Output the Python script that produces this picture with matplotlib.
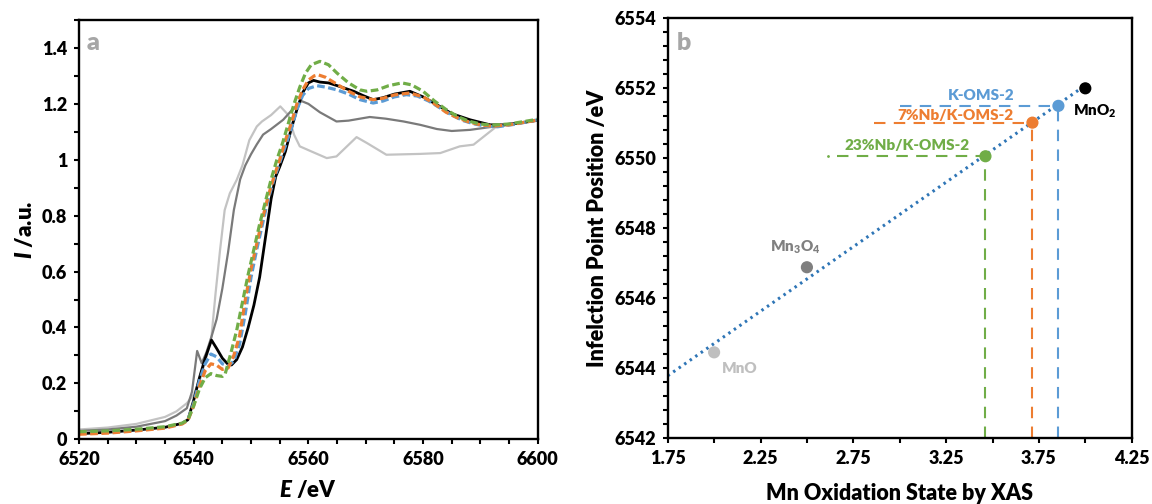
import numpy as np
import matplotlib
matplotlib.use('Agg')
import matplotlib.pyplot as plt
from matplotlib.ticker import MultipleLocator, FuncFormatter

plt.rcParams['font.family'] = ['Lato', 'DejaVu Sans']
plt.rcParams['font.weight'] = 'heavy'
plt.rcParams['axes.labelweight'] = 'heavy'
plt.rcParams['mathtext.fontset'] = 'custom'
plt.rcParams['mathtext.rm'] = 'Lato:heavy'
plt.rcParams['mathtext.it'] = 'Lato:italic:heavy'
plt.rcParams['mathtext.bf'] = 'Lato:heavy'

# ---- panel a: XANES spectra ----
e_mno = [6520, 6525, 6530, 6535, 6537, 6538.8, 6540, 6541.2, 6542.3, 6543.1, 6543.8, 6544.6,
         6545.4, 6546.3, 6547.5, 6548.5, 6549.7, 6551, 6551.9, 6553.5, 6555.1, 6556.5, 6557.5,
         6558.5, 6560.5, 6563.2, 6564.9, 6568.4, 6570.2, 6573.6, 6579.5, 6583, 6586.4, 6588.8,
         6592.8, 6596, 6600]
i_mno = [0.035, 0.042, 0.055, 0.08, 0.1, 0.129, 0.16, 0.22, 0.3, 0.367, 0.52, 0.678,
         0.82, 0.88, 0.928, 0.98, 1.07, 1.119, 1.137, 1.16, 1.191, 1.16, 1.09,
         1.048, 1.03, 1.006, 1.012, 1.081, 1.06, 1.018, 1.021, 1.024, 1.048, 1.054,
         1.119, 1.13, 1.14]

e_mn3o4 = [6520, 6525, 6530, 6535, 6537, 6538.8, 6539.7, 6540.6, 6541.4, 6542.2, 6543.1, 6544,
           6545, 6546, 6547, 6548.1, 6549, 6550, 6551, 6552.1, 6553.5, 6555.6, 6557, 6558.8,
           6560, 6562, 6564.9, 6567, 6570.7, 6573.5, 6576.6, 6579.5, 6582.4, 6585, 6588.2,
           6591.7, 6595, 6600]
i_mn3o4 = [0.03, 0.035, 0.045, 0.065, 0.085, 0.111, 0.17, 0.316, 0.272, 0.31, 0.367, 0.43,
           0.54, 0.67, 0.82, 0.93, 0.98, 1.02, 1.055, 1.09, 1.11, 1.143, 1.175, 1.21,
           1.2, 1.17, 1.137, 1.14, 1.153, 1.147, 1.137, 1.125, 1.11, 1.103, 1.107,
           1.117, 1.125, 1.14]

e_mno2 = [6520, 6525, 6530, 6535, 6538, 6539, 6540, 6541, 6542, 6543.1, 6544, 6545, 6546,
          6546.6, 6547.5, 6548.5, 6549.5, 6550.5, 6551.5, 6552.5, 6553.5, 6554.3, 6555, 6556,
          6557, 6558, 6559, 6560, 6560.9, 6562, 6563.5, 6565.5, 6567.9, 6569.5, 6571.3, 6573,
          6575, 6577.7, 6580, 6582.4, 6585, 6588.2, 6591.7, 6594, 6597, 6600]
i_mno2 = [0.02, 0.025, 0.033, 0.043, 0.057, 0.07, 0.14, 0.22, 0.29, 0.355, 0.325, 0.29, 0.268,
          0.266, 0.285, 0.33, 0.40, 0.48, 0.58, 0.72, 0.86, 0.94, 0.975, 1.03,
          1.11, 1.18, 1.24, 1.275, 1.284, 1.278, 1.275, 1.262, 1.245, 1.23, 1.215, 1.222,
          1.235, 1.245, 1.225, 1.197, 1.165, 1.143, 1.125, 1.125, 1.132, 1.142]

e_koms = [6520, 6525, 6530, 6535, 6538, 6539, 6540, 6541, 6542, 6543, 6544, 6545, 6546, 6547,
          6548, 6549, 6550, 6551, 6552, 6553, 6554, 6555, 6556, 6557, 6558, 6559, 6560, 6561.5,
          6563, 6565, 6567, 6569, 6571.3, 6573, 6575, 6577.1, 6579, 6581, 6583, 6585, 6587,
          6589, 6591, 6593, 6596, 6600]
i_koms = [0.022, 0.025, 0.032, 0.042, 0.056, 0.07, 0.13, 0.21, 0.27, 0.305, 0.295, 0.27, 0.262, 0.28,
          0.34, 0.45, 0.58, 0.68, 0.77, 0.86, 0.93, 0.99, 1.05, 1.11, 1.18, 1.23, 1.255, 1.265,
          1.26, 1.25, 1.235, 1.215, 1.203, 1.21, 1.225, 1.233, 1.228, 1.21, 1.185, 1.16, 1.14,
          1.128, 1.12, 1.118, 1.127, 1.143]

e_nb7 = [6520, 6525, 6530, 6535, 6538, 6539, 6540, 6541, 6542, 6543, 6544, 6545, 6546, 6547,
         6548, 6549, 6550, 6551, 6552, 6553, 6554, 6555, 6556, 6557, 6558, 6559, 6560, 6561,
         6561.7, 6563, 6565, 6567, 6569, 6571.3, 6573, 6575, 6577.7, 6580, 6582, 6584, 6586,
         6588, 6590, 6592, 6595, 6600]
i_nb7 = [0.018, 0.022, 0.03, 0.04, 0.055, 0.068, 0.12, 0.19, 0.245, 0.27, 0.265, 0.25, 0.255, 0.30,
         0.37, 0.50, 0.61, 0.70, 0.79, 0.87, 0.94, 1.0, 1.07, 1.13, 1.2, 1.25, 1.285, 1.3,
         1.304, 1.295, 1.27, 1.245, 1.225, 1.215, 1.22, 1.232, 1.239, 1.225, 1.2, 1.17, 1.15,
         1.135, 1.125, 1.12, 1.125, 1.142]

e_nb23 = [6520, 6525, 6530, 6535, 6538, 6539, 6540, 6541, 6542, 6543, 6544, 6545, 6545.5, 6546.5,
          6547.5, 6548.5, 6549.5, 6550.5, 6551.5, 6552.5, 6553.5, 6554.5, 6555.5, 6556.5, 6557.5,
          6558.5, 6559.5, 6560.5, 6562, 6563.5, 6565, 6567, 6569, 6570.2, 6572, 6574, 6576.3,
          6578, 6580, 6582, 6584, 6586, 6588, 6590, 6592, 6595, 6600]
i_nb23 = [0.027, 0.03, 0.036, 0.045, 0.058, 0.07, 0.12, 0.18, 0.22, 0.235, 0.228, 0.225, 0.235, 0.31,
          0.39, 0.49, 0.59, 0.68, 0.77, 0.85, 0.93, 1.0, 1.06, 1.13, 1.2,
          1.26, 1.31, 1.34, 1.352, 1.34, 1.31, 1.275, 1.25, 1.245, 1.25, 1.265, 1.275,
          1.268, 1.245, 1.21, 1.18, 1.155, 1.138, 1.128, 1.124, 1.128, 1.145]

# ---- panel b: inflection points ----
ref_names = ['MnO', 'Mn$_3$O$_4$', 'MnO$_2$']
ref_ox = [2.0, 2.5, 4.0]
ref_e0 = [6544.46, 6546.89, 6552.0]
ref_colors = ['#bfbfbf', '#7f7f7f', 'black']

samp_names = ['K-OMS-2', '7%Nb/K-OMS-2', '23%Nb/K-OMS-2']
samp_ox = [3.855, 3.715, 3.462]
samp_e0 = [6551.5, 6551.02, 6550.06]
samp_colors = ['#5b9bd5', '#ed7d31', '#70ad47']
guide_start = [3.0, 2.86, 2.66]

fig = plt.figure(figsize=(11.52, 5.04), dpi=100)
ax1 = fig.add_axes([0.0686, 0.1284, 0.3982, 0.8319])
ax2 = fig.add_axes([0.5796, 0.1300, 0.4028, 0.8337])

gfmt = FuncFormatter(lambda v, p: '{:g}'.format(round(v, 2)))

ax1.plot(e_mno, i_mno, color='#c3c3c3', lw=1.6)
ax1.plot(e_mn3o4, i_mn3o4, color='#7a7a7a', lw=1.6)
ax1.plot(e_mno2, i_mno2, color='black', lw=2.0)
ax1.plot(e_koms, i_koms, color=samp_colors[0], lw=2.3, dashes=(2.4, 1.1))
ax1.plot(e_nb7, i_nb7, color=samp_colors[1], lw=2.3, dashes=(2.4, 1.1))
ax1.plot(e_nb23, i_nb23, color=samp_colors[2], lw=2.3, dashes=(2.4, 1.1))
ax1.set_xlim(6520, 6600)
ax1.set_ylim(0, 1.5)
ax1.set_xticks(np.arange(6520, 6601, 20))
ax1.set_yticks(np.arange(0, 1.41, 0.2))
ax1.xaxis.set_minor_locator(MultipleLocator(5))
ax1.yaxis.set_minor_locator(MultipleLocator(0.1))
ax1.yaxis.set_major_formatter(gfmt)
ax1.set_xlabel('$E$ /eV', fontsize=16, labelpad=8)
ax1.set_ylabel('$I$ /a.u.', fontsize=16, labelpad=4)
ax1.text(6521.3, 1.418, 'a', color='#a6a6a6', fontsize=18, va='center')

# trendline through the reference oxides
k, b = np.polyfit(ref_ox, ref_e0, 1)
xt = np.array([1.75, 4.0])
ax2.plot(xt, k * xt + b, color='#2e75b6', lw=2.2, dashes=(0.8, 1.4))

for x, y, c, s in zip(samp_ox, samp_e0, samp_colors, guide_start):
    ax2.plot([s, x], [y, y], color=c, lw=1.5, dashes=(5.5, 4))
    ax2.plot([x, x], [6542, y], color=c, lw=1.5, dashes=(5.5, 4))
ax2.plot([2.615], [samp_e0[2]], marker='.', ms=2, color=samp_colors[2])

ax2.scatter(ref_ox, ref_e0, s=60, c=ref_colors, zorder=5)
ax2.scatter(samp_ox, samp_e0, s=60, c=samp_colors, zorder=5)

ax2.text(2.14, 6544.0, ref_names[0], color='#bfbfbf', fontsize=11, ha='center', va='center')
ax2.text(2.44, 6547.45, ref_names[1], color='#808080', fontsize=11, ha='center', va='center')
ax2.text(4.05, 6551.35, ref_names[2], color='black', fontsize=11, ha='center', va='center')
ax2.text(3.44, 6551.8, samp_names[0], color=samp_colors[0], fontsize=11, ha='center', va='center')
ax2.text(3.30, 6551.22, samp_names[1], color=samp_colors[1], fontsize=11, ha='center', va='center')
ax2.text(3.04, 6550.38, samp_names[2], color=samp_colors[2], fontsize=11, ha='center', va='center')
ax2.text(1.80, 6553.3, 'b', color='#a6a6a6', fontsize=18, va='center')

ax2.set_xlim(1.75, 4.25)
ax2.set_ylim(6542, 6554)
ax2.set_xticks(np.arange(1.75, 4.26, 0.5))
ax2.set_yticks(np.arange(6542, 6555, 2))
ax2.xaxis.set_minor_locator(MultipleLocator(0.25))
ax2.yaxis.set_minor_locator(MultipleLocator(0.4))
ax2.xaxis.set_major_formatter(FuncFormatter(lambda v, p: '{:.2f}'.format(v)))
ax2.set_xlabel('Mn Oxidation State by XAS', fontsize=15.5, labelpad=11)
ax2.set_ylabel('Infelction Point Position /eV', fontsize=15.5, labelpad=4)

for ax in (ax1, ax2):
    for sp in ax.spines.values():
        sp.set_linewidth(1.7)
        sp.set_color('black')
    ax.tick_params(which='both', direction='out', width=1.5, length=3.5, labelsize=13)
    ax.tick_params(which='major', pad=5)

fig.savefig('out.png', dpi=100)
